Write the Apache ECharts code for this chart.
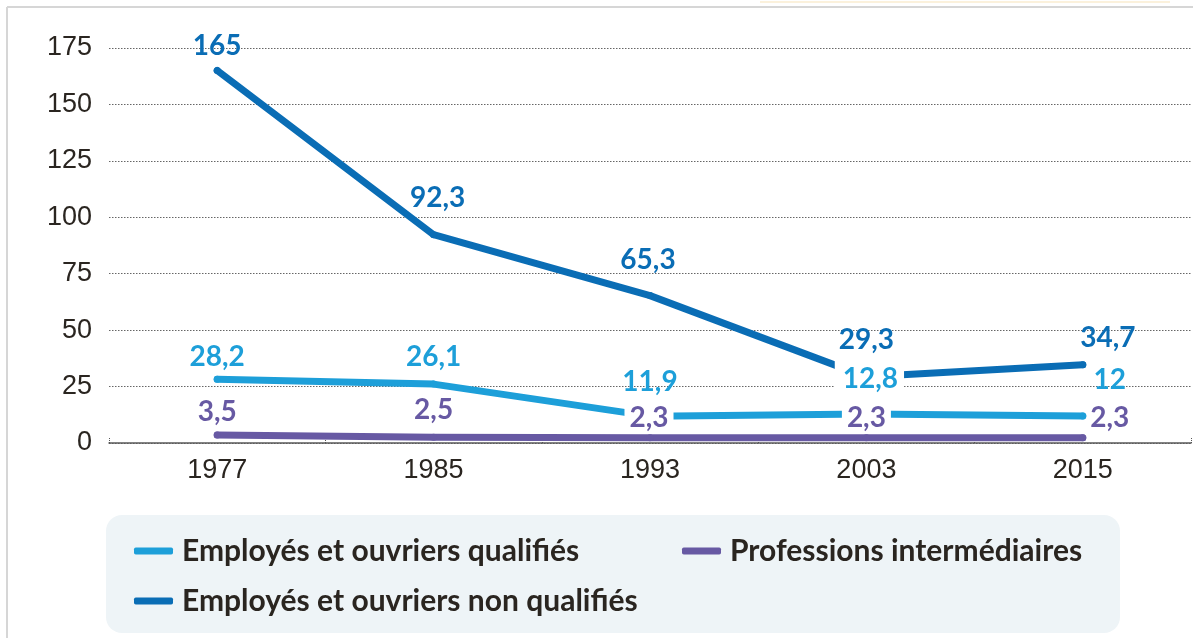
<!DOCTYPE html>
<html>
<head>
<meta charset="utf-8">
<script src="https://cdn.jsdelivr.net/npm/echarts@6/dist/echarts.min.js"></script>
<style>
  html, body { margin: 0; padding: 0; background: #fff; }
  #chart { width: 1193px; height: 638px; }
</style>
</head>
<body>
<div id="chart"></div>
<script>
// données
var annees = ['1977', '1985', '1993', '2003', '2015'];
var nomQualifies = 'Employés et ouvriers qualifiés';
var nomNonQualifies = 'Employés et ouvriers non qualifiés';
var nomIntermediaires = 'Professions intermédiaires';
var qualifies = [28.2, 26.1, 11.9, 12.8, 12];
var nonQualifies = [165, 92.3, 65.3, 29.3, 34.7];
var intermediaires = [3.5, 2.5, 2.3, 2.3, 2.3];

// décalage des étiquettes (placées à la main dans l'original)
var decalQualifies = [[0, -22], [0, -27], [0, -34], [3, -35], [27, -36]];
var decalNonQualifies = [[0, -25], [4, -37], [-2, -36], [0, -37], [25, -27]];
var decalIntermediaires = [[0, -23], [0, -27], [-1, -20], [0, -20], [27, -20]];

var bleuClair = '#1d9fd9';
var bleuFonce = '#0a6db5';
var violet = '#6759a3';
var texte = '#2a2520';

function fmt(v) {
  return String(v).replace('.', ',');
}

// points avec étiquette ; certaines ont un fond blanc qui coupe les lignes
function points(valeurs, decal, fonds) {
  return valeurs.map(function (v, i) {
    var item = { value: v, label: { offset: decal[i] } };
    if (fonds && fonds[i]) {
      item.label.backgroundColor = '#fff';
      item.label.padding = fonds[i];
    }
    return item;
  });
}

function serie(nom, valeurs, couleur, decal, fonds, z) {
  return {
    name: nom,
    type: 'line',
    z: z,
    data: points(valeurs, decal, fonds),
    symbol: 'circle',
    symbolSize: 7,
    itemStyle: { color: couleur },
    lineStyle: { color: couleur, width: 7, cap: 'round', join: 'round' },
    label: {
      show: true,
      position: 'inside',
      formatter: function (p) { return fmt(p.value); },
      color: couleur,
      fontFamily: 'Lato',
      fontWeight: 'bold',
      fontSize: 28
    },
    emphasis: { disabled: true },
    silent: true
  };
}

function legende(nom, couleur, gauche, haut) {
  return {
    data: [{ name: nom, itemStyle: { color: couleur } }],
    left: gauche,
    top: haut,
    icon: 'roundRect',
    itemWidth: 39,
    itemHeight: 7,
    selectedMode: false,
    textStyle: {
      color: texte,
      fontFamily: 'Lato',
      fontWeight: 'bold',
      fontSize: 30,
      padding: [0, 0, 0, 4]
    }
  };
}

var myChart = echarts.init(document.getElementById('chart'));
myChart.setOption({
  animation: false,
  backgroundColor: '#fff',
  grid: { left: 109, right: 2, top: 48, bottom: 195 },
  xAxis: {
    type: 'category',
    data: annees,
    axisLine: { lineStyle: { color: '#5a5a5a', width: 1.5 } },
    axisTick: { show: true, inside: true, length: 5, lineStyle: { color: '#555', type: 'dotted' } },
    axisLabel: { color: texte, fontFamily: 'Liberation Sans', fontSize: 27, margin: 14 }
  },
  yAxis: {
    type: 'value',
    min: 0,
    max: 175,
    interval: 25,
    axisLine: { show: false },
    axisTick: { show: false },
    axisLabel: { color: texte, fontFamily: 'Liberation Sans', fontSize: 27, margin: 17 },
    splitLine: { lineStyle: { color: '#666', type: [1.5, 1.5], width: 1 } }
  },
  legend: [
    legende(nomQualifies, bleuClair, 129, 531),
    legende(nomIntermediaires, violet, 677, 531),
    legende(nomNonQualifies, bleuFonce, 129, 581)
  ],
  graphic: [
    { type: 'rect', z: -10, shape: { x: 106, y: 515, width: 1014, height: 118, r: 16 }, style: { fill: '#eef4f7' } },
    { type: 'line', z: -10, shape: { x1: 7, y1: 7, x2: 7, y2: 638 }, style: { stroke: '#d6d6d6', lineWidth: 2 } },
    { type: 'line', z: -10, shape: { x1: 7, y1: 7, x2: 1193, y2: 7 }, style: { stroke: '#d6d6d6', lineWidth: 2 } },
    { type: 'line', z: -10, shape: { x1: 760, y1: 2, x2: 1170, y2: 2 }, style: { stroke: '#fbf1dc', lineWidth: 2 } }
  ],
  series: [
    serie(nomNonQualifies, nonQualifies, bleuFonce, decalNonQualifies, null, 2),
    serie(nomQualifies, qualifies, bleuClair, decalQualifies, [null, null, null, [10, 6, 2, 8], null], 3),
    serie(nomIntermediaires, intermediaires, violet, decalIntermediaires, [null, null, [2, 5, 2, 5], [2, 5, 2, 5], null], 4)
  ]
});
</script>
</body>
</html>
